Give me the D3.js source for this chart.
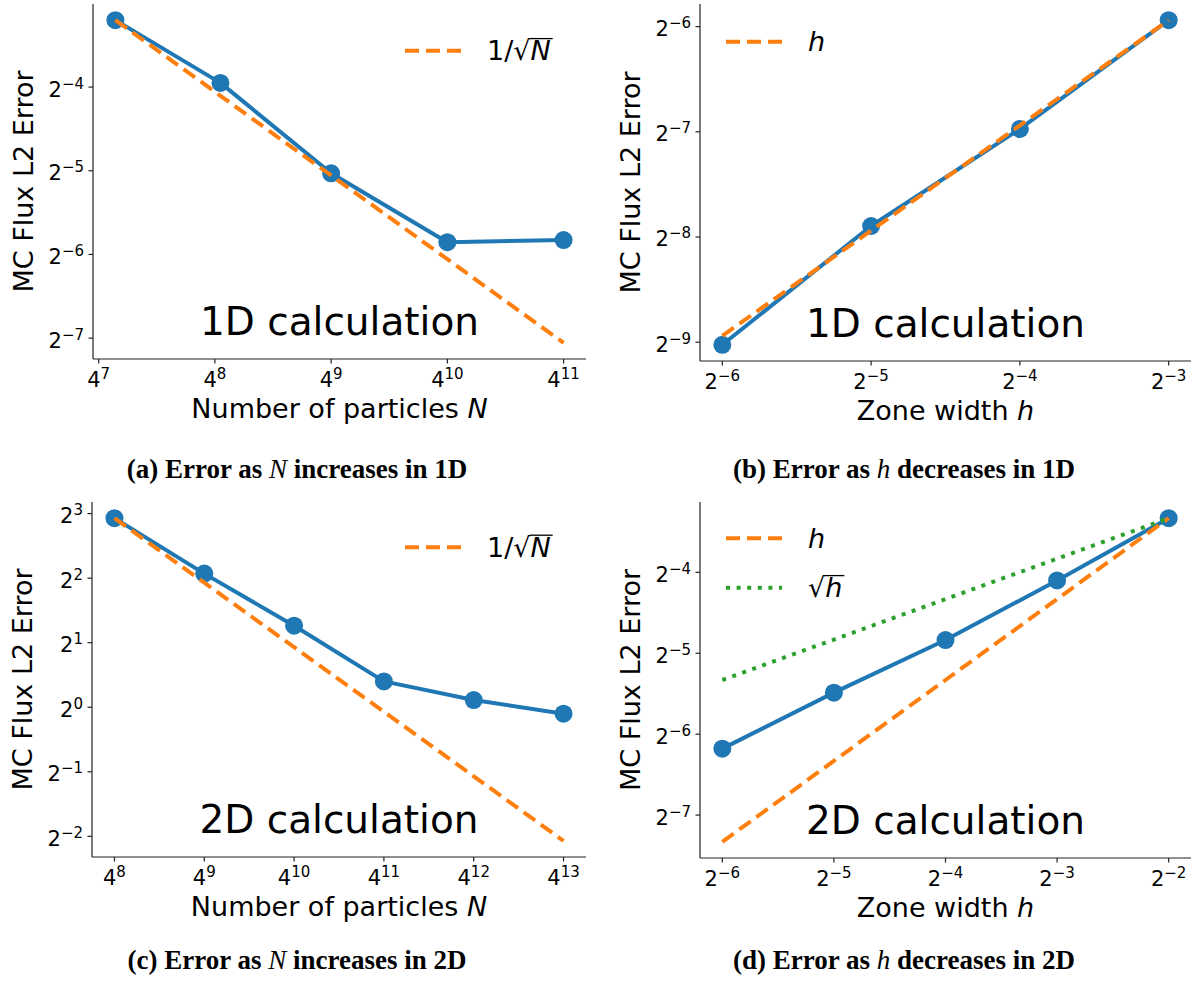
<!DOCTYPE html>
<html>
<head>
<meta charset="utf-8">
<script src="https://cdn.jsdelivr.net/npm/d3@7"></script>
<style>
  body { margin: 0; background: #fff; }
  text { font-family: "DejaVu Sans", sans-serif; fill: #000; }
  .cap { font-family: "Liberation Serif", serif; font-weight: bold; }
</style>
</head>
<body>
<div id="chart"></div>
<script>
// data
var aN = [20000, 70000, 262144, 1048576, 4194304];
var aErr = [0.1088, 0.0647, 0.0306, 0.0173, 0.0176];
var bH = [0.015625, 0.03125, 0.0625, 0.125];
var bErr = [0.00192, 0.00420, 0.00796, 0.01630];
var cN = [65536, 262144, 1048576, 4194304, 16777216, 67108864];
var cErr = [7.62, 4.20, 2.40, 1.32, 1.08, 0.933];
var dH = [0.015625, 0.03125, 0.0625, 0.125, 0.25];
var dErr = [0.0138, 0.0223, 0.0350, 0.0583, 0.0994];

// tick exponents
var aXTicks = [7, 8, 9, 10, 11], aYTicks = [-4, -5, -6, -7];
var bXTicks = [-6, -5, -4, -3], bYTicks = [-6, -7, -8, -9];
var cXTicks = [8, 9, 10, 11, 12, 13], cYTicks = [3, 2, 1, 0, -1, -2];
var dXTicks = [-6, -5, -4, -3, -2], dYTicks = [-4, -5, -6, -7];

var captions = [
  ["(a) Error as ", "N", " increases in 1D"],
  ["(b) Error as ", "h", " decreases in 1D"],
  ["(c) Error as ", "N", " increases in 2D"],
  ["(d) Error as ", "h", " decreases in 2D"]
];

var blue = "#1f77b4", orange = "#ff7f0e", green = "#2ca02c";
var width = 1193, height = 983;

var svg = d3.select("#chart").append("svg")
  .attr("width", width).attr("height", height);

function sup(sel, base, exp, anchor) {
  var t = sel.append("text").attr("text-anchor", anchor);
  t.append("tspan").attr("font-size", 21).text(base);
  t.append("tspan").attr("font-size", 15).attr("dy", -8)
    .text(exp < 0 ? "\u2212" + (-exp) : exp);
  return t;
}

function panel(cfg) {
  var g = svg.append("g");
  var xb = cfg.xBase, box = cfg.box;
  var ys = [].concat(cfg.err);
  cfg.refs.forEach(function(r) { ys = ys.concat(r.vals); });
  var lx = d3.extent(cfg.x, function(d) { return Math.log(d); });
  var ly = d3.extent(ys, function(d) { return Math.log(d); });
  var mx = (lx[1] - lx[0]) * 0.05, my = (ly[1] - ly[0]) * 0.05;

  var x = d3.scaleLog().base(xb)
    .domain([Math.exp(lx[0] - mx), Math.exp(lx[1] + mx)])
    .range([box[0], box[1]]);
  var y = d3.scaleLog().base(2)
    .domain([Math.exp(ly[0] - my), Math.exp(ly[1] + my)])
    .range([box[3], box[2]]);

  // spines
  g.append("line").attr("x1", box[0]).attr("x2", box[0])
    .attr("y1", box[2]).attr("y2", box[3])
    .attr("stroke", "#222").attr("stroke-width", 1.2);
  g.append("line").attr("x1", box[0]).attr("x2", box[1])
    .attr("y1", box[3]).attr("y2", box[3])
    .attr("stroke", "#222").attr("stroke-width", 1.2);

  // x ticks
  cfg.xTicks.forEach(function(e) {
    var px = x(Math.pow(xb, e));
    g.append("line").attr("x1", px).attr("x2", px)
      .attr("y1", box[3]).attr("y2", box[3] + 4.5)
      .attr("stroke", "#222").attr("stroke-width", 1.2);
    sup(g, xb, e, "middle").attr("x", px).attr("y", box[3] + 28);
  });
  // y ticks
  cfg.yTicks.forEach(function(e) {
    var py = y(Math.pow(2, e));
    g.append("line").attr("x1", box[0] - 4.5).attr("x2", box[0])
      .attr("y1", py).attr("y2", py)
      .attr("stroke", "#222").attr("stroke-width", 1.2);
    sup(g, 2, e, "end").attr("x", box[0] - 9).attr("y", py + 9.5);
  });

  // axis labels
  var xl = g.append("text").attr("x", (box[0] + box[1]) / 2).attr("y", box[3] + 59)
    .attr("text-anchor", "middle").attr("font-size", 27);
  xl.append("tspan").text(cfg.xLabel[0]);
  xl.append("tspan").attr("font-style", "italic").text(cfg.xLabel[1]);

  g.append("text")
    .attr("transform", "translate(" + (box[0] - 60) + "," + ((box[2] + box[3]) / 2) + ") rotate(-90)")
    .attr("text-anchor", "middle").attr("font-size", 27)
    .text("MC Flux L2 Error");

  // annotation
  g.append("text").attr("x", (box[0] + box[1]) / 2).attr("y", box[3] - 24)
    .attr("text-anchor", "middle").attr("font-size", 39)
    .text(cfg.note);

  // data series
  var line = d3.line()
    .x(function(d) { return x(d[0]); })
    .y(function(d) { return y(d[1]); });
  var pts = d3.zip(cfg.x, cfg.err);
  g.append("path").datum(pts).attr("d", line)
    .attr("fill", "none").attr("stroke", blue).attr("stroke-width", 4)
    .attr("stroke-linejoin", "round");
  g.selectAll(".dot").data(pts).enter().append("circle")
    .attr("class", "dot")
    .attr("cx", function(d) { return x(d[0]); })
    .attr("cy", function(d) { return y(d[1]); })
    .attr("r", 9).attr("fill", blue);

  // reference slopes
  cfg.refs.forEach(function(r) {
    g.append("path").datum(d3.zip(cfg.x, r.vals)).attr("d", line)
      .attr("fill", "none").attr("stroke", r.color).attr("stroke-width", 4)
      .attr("stroke-dasharray", r.dash);
  });

  // legend
  var fs = 27;
  cfg.refs.forEach(function(r, i) {
    var ly0 = box[2] + cfg.legY + i * 49.4;
    var lx0 = cfg.legRight ? box[1] - 181 : box[0] + 26;
    g.append("line").attr("x1", lx0).attr("x2", lx0 + 56)
      .attr("y1", ly0).attr("y2", ly0)
      .attr("stroke", r.color).attr("stroke-width", 4)
      .attr("stroke-dasharray", r.dash);
    var base = ly0 + 9.5;
    var t = g.append("text").attr("x", lx0 + 82).attr("y", base)
      .attr("font-size", fs);
    if (r.label[0]) t.append("tspan").text(r.label[0]);
    var rad = r.label[1];
    if (rad) t.append("tspan").text("\u221a");
    var v = t.append("tspan").attr("font-style", "italic").text(r.label[2]);
    if (rad) {
      var full = t.node().getComputedTextLength();
      var vl = v.node().getComputedTextLength();
      g.append("line")
        .attr("x1", lx0 + 82 + full - vl - 0.5).attr("x2", lx0 + 82 + full + 2)
        .attr("y1", base - 0.8 * fs).attr("y2", base - 0.8 * fs)
        .attr("stroke", "#000").attr("stroke-width", 1.3);
    }
  });

  // caption
  var c = svg.append("text").attr("class", "cap")
    .attr("x", cfg.capX).attr("y", cfg.capY)
    .attr("text-anchor", "middle").attr("font-size", 27);
  c.append("tspan").text(cfg.caption[0]);
  c.append("tspan").attr("font-weight", "normal").attr("font-style", "italic").text(cfg.caption[1]);
  c.append("tspan").text(cfg.caption[2]);
}

var dashed = "14,7", dotted = "4,6.6";

panel({
  box: [93, 586, 4, 359], xBase: 4, x: aN, err: aErr,
  xTicks: aXTicks, yTicks: aYTicks,
  refs: [{ vals: aN.map(function(n) { return aErr[0] * Math.sqrt(aN[0] / n); }),
           color: orange, dash: dashed, label: ["1/", true, "N"] }],
  legRight: true, legY: 46.7,
  xLabel: ["Number of particles ", "N"], note: "1D calculation",
  caption: captions[0], capX: 297, capY: 478
});
panel({
  box: [700, 1191, 4, 361], xBase: 2, x: bH, err: bErr,
  xTicks: bXTicks, yTicks: bYTicks,
  refs: [{ vals: bH.map(function(h) { return bErr[bErr.length - 1] * h / bH[bH.length - 1]; }),
           color: orange, dash: dashed, label: ["", false, "h"] }],
  legRight: false, legY: 37.7,
  xLabel: ["Zone width ", "h"], note: "1D calculation",
  caption: captions[1], capX: 904, capY: 478
});
panel({
  box: [92, 586, 502, 857], xBase: 4, x: cN, err: cErr,
  xTicks: cXTicks, yTicks: cYTicks,
  refs: [{ vals: cN.map(function(n) { return cErr[0] * Math.sqrt(cN[0] / n); }),
           color: orange, dash: dashed, label: ["1/", true, "N"] }],
  legRight: true, legY: 45.3,
  xLabel: ["Number of particles ", "N"], note: "2D calculation",
  caption: captions[2], capX: 297, capY: 969
});
panel({
  box: [700, 1191, 502, 858], xBase: 2, x: dH, err: dErr,
  xTicks: dXTicks, yTicks: dYTicks,
  refs: [{ vals: dH.map(function(h) { return dErr[dErr.length - 1] * h / dH[dH.length - 1]; }),
           color: orange, dash: dashed, label: ["", false, "h"] },
         { vals: dH.map(function(h) { return dErr[dErr.length - 1] * Math.sqrt(h / dH[dH.length - 1]); }),
           color: green, dash: dotted, label: ["", true, "h"] }],
  legRight: false, legY: 36.3,
  xLabel: ["Zone width ", "h"], note: "2D calculation",
  caption: captions[3], capX: 904, capY: 969
});
</script>
</body>
</html>
